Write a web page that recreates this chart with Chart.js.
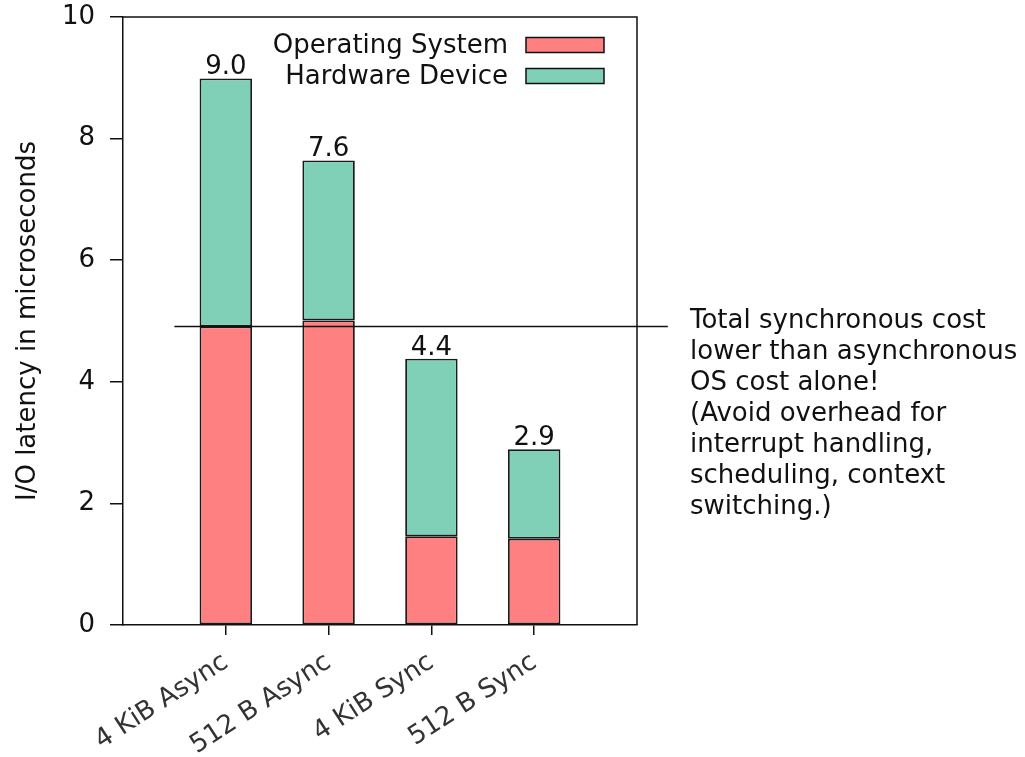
<!DOCTYPE html>
<html>
<head>
<meta charset="utf-8">
<title>I/O latency breakdown</title>
<script src="https://cdn.jsdelivr.net/npm/chart.js@4.4.1/dist/chart.umd.min.js"></script>
<style>
  html, body { margin: 0; padding: 0; background: #ffffff; }
  #wrap { width: 1025px; height: 757px; position: relative; }
</style>
</head>
<body>
<div id="wrap"><canvas id="c" width="1025" height="757"></canvas></div>
<script>
// Latency per request type, split into OS and device time (microseconds)
const categories = ['4 KiB Async', '512 B Async', '4 KiB Sync', '512 B Sync'];
const osLatency = [4.91, 5.01, 1.46, 1.42];
const hwLatency = [4.08, 2.63, 2.92, 1.47];
const yTicks = [0, 2, 4, 6, 8, 10];
const seriesNames = ['Operating System', 'Hardware Device'];
const noteLines = [
  'Total synchronous cost',
  'lower than asynchronous',
  'OS cost alone!',
  '(Avoid overhead for',
  'interrupt handling,',
  'scheduling, context',
  'switching.)'
];

const FONT = 'DejaVu Sans';
const INK = '#111111';
const OS_COLOR = '#ff8080';
const HW_COLOR = '#80d0b8';

Chart.defaults.font.family = FONT;
Chart.defaults.font.size = 26;
Chart.defaults.color = INK;

const totals = categories.map((_, i) => osLatency[i] + hwLatency[i]);

// Box around the plotting area (top and right edges complete the frame)
const framePlugin = {
  id: 'frame',
  afterDraw(chart) {
    const { ctx, chartArea: a } = chart;
    ctx.save();
    ctx.strokeStyle = INK;
    ctx.lineWidth = 1.5;
    ctx.beginPath();
    ctx.moveTo(a.left, a.top);
    ctx.lineTo(a.right, a.top);
    ctx.lineTo(a.right, a.bottom);
    ctx.stroke();
    ctx.restore();
  }
};

// Reference line at the asynchronous OS cost, running out to the note
const refLinePlugin = {
  id: 'refLine',
  afterDatasetsDraw(chart) {
    const { ctx, scales: { x, y } } = chart;
    const py = Math.round(y.getPixelForValue(osLatency[0])) + 0.5;
    ctx.save();
    ctx.strokeStyle = INK;
    ctx.lineWidth = 1.5;
    ctx.beginPath();
    ctx.moveTo(x.getPixelForValue(-0.5), py);
    ctx.lineTo(x.getPixelForValue(4.3), py);
    ctx.stroke();
    ctx.restore();
  }
};

// Stack totals printed above each bar
const totalsPlugin = {
  id: 'totals',
  afterDatasetsDraw(chart) {
    const { ctx, scales: { x, y } } = chart;
    ctx.save();
    ctx.fillStyle = INK;
    ctx.font = '26px "' + FONT + '"';
    ctx.textAlign = 'center';
    ctx.textBaseline = 'alphabetic';
    totals.forEach((t, i) => {
      ctx.fillText(t.toFixed(1), x.getPixelForValue(i), y.getPixelForValue(t) - 4);
    });
    ctx.restore();
  }
};

// Legend inside the plot: label on the left, swatch on the right
const legendPlugin = {
  id: 'innerLegend',
  afterDraw(chart) {
    const { ctx } = chart;
    const colors = [OS_COLOR, HW_COLOR];
    ctx.save();
    ctx.font = '26px "' + FONT + '"';
    ctx.textAlign = 'right';
    ctx.textBaseline = 'middle';
    seriesNames.forEach((name, i) => {
      const cy = 45 + i * 31;
      ctx.fillStyle = INK;
      ctx.fillText(name, 508, cy + 1);
      ctx.fillStyle = colors[i];
      ctx.fillRect(526, cy - 7.5, 78, 15);
      ctx.strokeStyle = INK;
      ctx.lineWidth = 1.5;
      ctx.strokeRect(526, cy - 7.5, 78, 15);
    });
    ctx.restore();
  }
};

// Explanatory note to the right of the plot
const notePlugin = {
  id: 'note',
  afterDraw(chart) {
    const { ctx } = chart;
    ctx.save();
    ctx.fillStyle = INK;
    ctx.font = '26px "' + FONT + '"';
    ctx.textAlign = 'left';
    ctx.textBaseline = 'alphabetic';
    noteLines.forEach((line, i) => ctx.fillText(line, 690, 328 + i * 31));
    ctx.restore();
  }
};

const barStyle = {
  borderColor: '#1a1a1a',
  borderWidth: 1.8,
  borderSkipped: false,
  categoryPercentage: 1,
  barPercentage: 0.51
};

// Axes keep fixed thickness; label overhang is allowed to spill outside
function noOverhang(scale) {
  scale.paddingTop = 0;
  scale.paddingBottom = 0;
  scale.paddingLeft = 0;
  scale.paddingRight = 0;
}

new Chart(document.getElementById('c'), {
  type: 'bar',
  data: {
    datasets: [
      Object.assign({
        label: seriesNames[0],
        data: osLatency.map((v, i) => ({ x: i, y: v })),
        backgroundColor: OS_COLOR
      }, barStyle),
      Object.assign({
        label: seriesNames[1],
        data: hwLatency.map((v, i) => ({ x: i, y: v })),
        backgroundColor: HW_COLOR
      }, barStyle)
    ]
  },
  options: {
    responsive: false,
    animation: false,
    devicePixelRatio: 1,
    layout: { padding: { left: 0, top: 17, right: 388, bottom: 0 } },
    plugins: {
      legend: { display: false },
      tooltip: { enabled: false }
    },
    scales: {
      x: {
        type: 'linear',
        stacked: true,
        offset: false,
        min: -1,
        max: 4,
        afterBuildTicks(scale) {
          scale.ticks = categories.map((_, i) => ({ value: i }));
        },
        afterFit(scale) { scale.height = 132; noOverhang(scale); },
        ticks: {
          autoSkip: false,
          minRotation: 33,
          maxRotation: 33,
          padding: 12,
          color: '#333333',
          font: { size: 26 },
          callback: (v) => categories[v]
        },
        grid: {
          offset: false,
          drawOnChartArea: false,
          drawTicks: true,
          tickLength: 10,
          tickColor: INK,
          lineWidth: 1.5
        },
        border: { display: true, color: INK, width: 1.5 }
      },
      y: {
        stacked: true,
        min: 0,
        max: 10,
        afterBuildTicks(scale) {
          scale.ticks = yTicks.map(v => ({ value: v }));
        },
        afterFit(scale) { scale.width = 123; noOverhang(scale); },
        ticks: {
          padding: 15,
          color: INK,
          font: { size: 26 }
        },
        grid: {
          drawOnChartArea: false,
          drawTicks: true,
          tickLength: 13,
          tickColor: INK,
          lineWidth: 1.5
        },
        border: { display: true, color: INK, width: 1.5 },
        title: {
          display: true,
          text: 'I/O latency in microseconds',
          color: INK,
          font: { size: 26 },
          padding: { top: 13, bottom: 0 }
        }
      }
    }
  },
  plugins: [framePlugin, refLinePlugin, totalsPlugin, legendPlugin, notePlugin]
});
</script>
</body>
</html>
